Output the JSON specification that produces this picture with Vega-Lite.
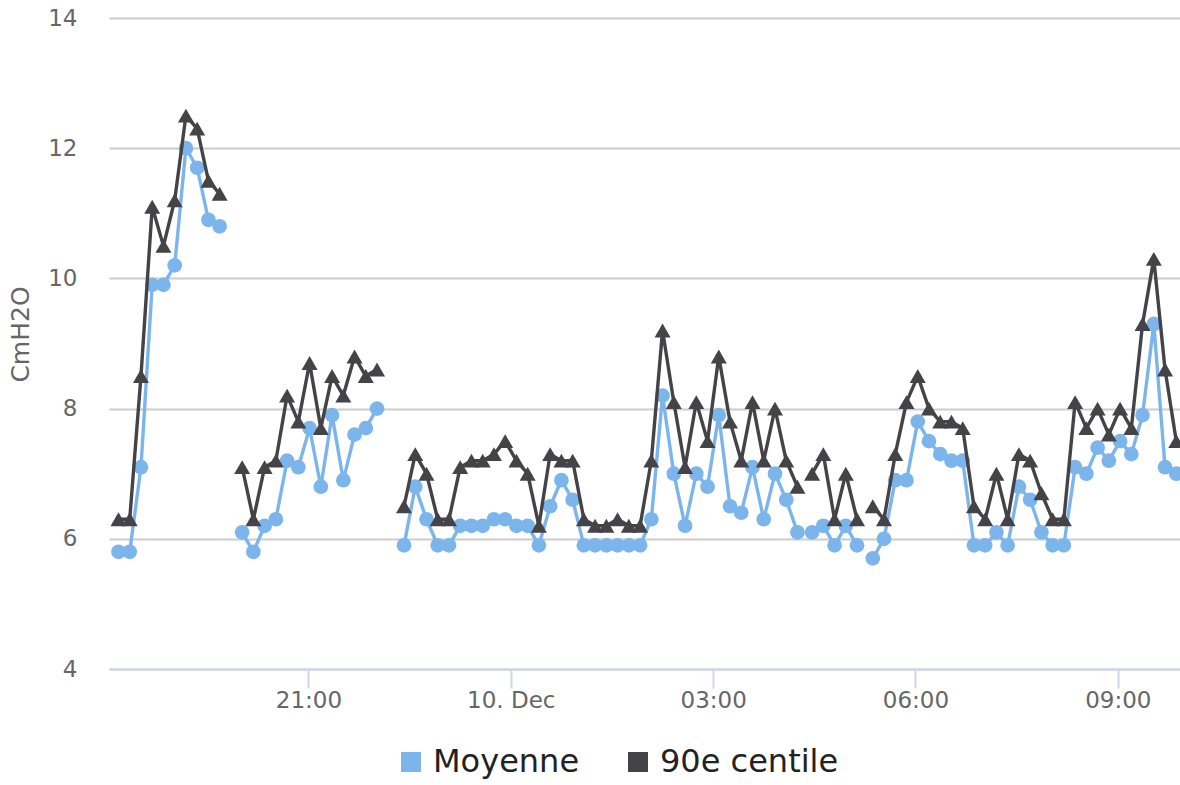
{
  "$schema": "https://vega.github.io/schema/vega-lite/v6.json",
  "width": 1071,
  "height": 651,
  "autosize": {"type": "none"},
  "padding": {"left": 109, "top": 18, "right": 0, "bottom": 116},
  "background": "#ffffff",
  "data": {
    "values": [
      {"t": "2024-12-09T18:11:00", "seg": 1, "moy": 5.8, "p90": 6.3},
      {"t": "2024-12-09T18:21:00", "seg": 1, "moy": 5.8, "p90": 6.3},
      {"t": "2024-12-09T18:31:00", "seg": 1, "moy": 7.1, "p90": 8.5},
      {"t": "2024-12-09T18:41:00", "seg": 1, "moy": 9.9, "p90": 11.1},
      {"t": "2024-12-09T18:51:00", "seg": 1, "moy": 9.9, "p90": 10.5},
      {"t": "2024-12-09T19:01:00", "seg": 1, "moy": 10.2, "p90": 11.2},
      {"t": "2024-12-09T19:11:00", "seg": 1, "moy": 12.0, "p90": 12.5},
      {"t": "2024-12-09T19:21:00", "seg": 1, "moy": 11.7, "p90": 12.3},
      {"t": "2024-12-09T19:31:00", "seg": 1, "moy": 10.9, "p90": 11.5},
      {"t": "2024-12-09T19:41:00", "seg": 1, "moy": 10.8, "p90": 11.3},
      {"t": "2024-12-09T20:01:00", "seg": 2, "moy": 6.1, "p90": 7.1},
      {"t": "2024-12-09T20:11:00", "seg": 2, "moy": 5.8, "p90": 6.3},
      {"t": "2024-12-09T20:21:00", "seg": 2, "moy": 6.2, "p90": 7.1},
      {"t": "2024-12-09T20:31:00", "seg": 2, "moy": 6.3, "p90": 7.2},
      {"t": "2024-12-09T20:41:00", "seg": 2, "moy": 7.2, "p90": 8.2},
      {"t": "2024-12-09T20:51:00", "seg": 2, "moy": 7.1, "p90": 7.8},
      {"t": "2024-12-09T21:01:00", "seg": 2, "moy": 7.7, "p90": 8.7},
      {"t": "2024-12-09T21:11:00", "seg": 2, "moy": 6.8, "p90": 7.7},
      {"t": "2024-12-09T21:21:00", "seg": 2, "moy": 7.9, "p90": 8.5},
      {"t": "2024-12-09T21:31:00", "seg": 2, "moy": 6.9, "p90": 8.2},
      {"t": "2024-12-09T21:41:00", "seg": 2, "moy": 7.6, "p90": 8.8},
      {"t": "2024-12-09T21:51:00", "seg": 2, "moy": 7.7, "p90": 8.5},
      {"t": "2024-12-09T22:01:00", "seg": 2, "moy": 8.0, "p90": 8.6},
      {"t": "2024-12-09T22:25:00", "seg": 3, "moy": 5.9, "p90": 6.5},
      {"t": "2024-12-09T22:35:00", "seg": 3, "moy": 6.8, "p90": 7.3},
      {"t": "2024-12-09T22:45:00", "seg": 3, "moy": 6.3, "p90": 7.0},
      {"t": "2024-12-09T22:55:00", "seg": 3, "moy": 5.9, "p90": 6.3},
      {"t": "2024-12-09T23:05:00", "seg": 3, "moy": 5.9, "p90": 6.3},
      {"t": "2024-12-09T23:15:00", "seg": 3, "moy": 6.2, "p90": 7.1},
      {"t": "2024-12-09T23:25:00", "seg": 3, "moy": 6.2, "p90": 7.2},
      {"t": "2024-12-09T23:35:00", "seg": 3, "moy": 6.2, "p90": 7.2},
      {"t": "2024-12-09T23:45:00", "seg": 3, "moy": 6.3, "p90": 7.3},
      {"t": "2024-12-09T23:55:00", "seg": 3, "moy": 6.3, "p90": 7.5},
      {"t": "2024-12-10T00:05:00", "seg": 3, "moy": 6.2, "p90": 7.2},
      {"t": "2024-12-10T00:15:00", "seg": 3, "moy": 6.2, "p90": 7.0},
      {"t": "2024-12-10T00:25:00", "seg": 3, "moy": 5.9, "p90": 6.2},
      {"t": "2024-12-10T00:35:00", "seg": 3, "moy": 6.5, "p90": 7.3},
      {"t": "2024-12-10T00:45:00", "seg": 3, "moy": 6.9, "p90": 7.2},
      {"t": "2024-12-10T00:55:00", "seg": 3, "moy": 6.6, "p90": 7.2},
      {"t": "2024-12-10T01:05:00", "seg": 3, "moy": 5.9, "p90": 6.3},
      {"t": "2024-12-10T01:15:00", "seg": 3, "moy": 5.9, "p90": 6.2},
      {"t": "2024-12-10T01:25:00", "seg": 3, "moy": 5.9, "p90": 6.2},
      {"t": "2024-12-10T01:35:00", "seg": 3, "moy": 5.9, "p90": 6.3},
      {"t": "2024-12-10T01:45:00", "seg": 3, "moy": 5.9, "p90": 6.2},
      {"t": "2024-12-10T01:55:00", "seg": 3, "moy": 5.9, "p90": 6.2},
      {"t": "2024-12-10T02:05:00", "seg": 3, "moy": 6.3, "p90": 7.2},
      {"t": "2024-12-10T02:15:00", "seg": 3, "moy": 8.2, "p90": 9.2},
      {"t": "2024-12-10T02:25:00", "seg": 3, "moy": 7.0, "p90": 8.1},
      {"t": "2024-12-10T02:35:00", "seg": 3, "moy": 6.2, "p90": 7.1},
      {"t": "2024-12-10T02:45:00", "seg": 3, "moy": 7.0, "p90": 8.1},
      {"t": "2024-12-10T02:55:00", "seg": 3, "moy": 6.8, "p90": 7.5},
      {"t": "2024-12-10T03:05:00", "seg": 3, "moy": 7.9, "p90": 8.8},
      {"t": "2024-12-10T03:15:00", "seg": 3, "moy": 6.5, "p90": 7.8},
      {"t": "2024-12-10T03:25:00", "seg": 3, "moy": 6.4, "p90": 7.2},
      {"t": "2024-12-10T03:35:00", "seg": 3, "moy": 7.1, "p90": 8.1},
      {"t": "2024-12-10T03:45:00", "seg": 3, "moy": 6.3, "p90": 7.2},
      {"t": "2024-12-10T03:55:00", "seg": 3, "moy": 7.0, "p90": 8.0},
      {"t": "2024-12-10T04:05:00", "seg": 3, "moy": 6.6, "p90": 7.2},
      {"t": "2024-12-10T04:15:00", "seg": 3, "moy": 6.1, "p90": 6.8},
      {"t": "2024-12-10T04:28:00", "seg": 4, "moy": 6.1, "p90": 7.0},
      {"t": "2024-12-10T04:38:00", "seg": 4, "moy": 6.2, "p90": 7.3},
      {"t": "2024-12-10T04:48:00", "seg": 4, "moy": 5.9, "p90": 6.3},
      {"t": "2024-12-10T04:58:00", "seg": 4, "moy": 6.2, "p90": 7.0},
      {"t": "2024-12-10T05:08:00", "seg": 4, "moy": 5.9, "p90": 6.3},
      {"t": "2024-12-10T05:22:00", "seg": 5, "moy": 5.7, "p90": 6.5},
      {"t": "2024-12-10T05:32:00", "seg": 5, "moy": 6.0, "p90": 6.3},
      {"t": "2024-12-10T05:42:00", "seg": 5, "moy": 6.9, "p90": 7.3},
      {"t": "2024-12-10T05:52:00", "seg": 5, "moy": 6.9, "p90": 8.1},
      {"t": "2024-12-10T06:02:00", "seg": 5, "moy": 7.8, "p90": 8.5},
      {"t": "2024-12-10T06:12:00", "seg": 5, "moy": 7.5, "p90": 8.0},
      {"t": "2024-12-10T06:22:00", "seg": 5, "moy": 7.3, "p90": 7.8},
      {"t": "2024-12-10T06:32:00", "seg": 5, "moy": 7.2, "p90": 7.8},
      {"t": "2024-12-10T06:42:00", "seg": 5, "moy": 7.2, "p90": 7.7},
      {"t": "2024-12-10T06:52:00", "seg": 5, "moy": 5.9, "p90": 6.5},
      {"t": "2024-12-10T07:02:00", "seg": 5, "moy": 5.9, "p90": 6.3},
      {"t": "2024-12-10T07:12:00", "seg": 5, "moy": 6.1, "p90": 7.0},
      {"t": "2024-12-10T07:22:00", "seg": 5, "moy": 5.9, "p90": 6.3},
      {"t": "2024-12-10T07:32:00", "seg": 5, "moy": 6.8, "p90": 7.3},
      {"t": "2024-12-10T07:42:00", "seg": 5, "moy": 6.6, "p90": 7.2},
      {"t": "2024-12-10T07:52:00", "seg": 5, "moy": 6.1, "p90": 6.7},
      {"t": "2024-12-10T08:02:00", "seg": 5, "moy": 5.9, "p90": 6.3},
      {"t": "2024-12-10T08:12:00", "seg": 5, "moy": 5.9, "p90": 6.3},
      {"t": "2024-12-10T08:22:00", "seg": 5, "moy": 7.1, "p90": 8.1},
      {"t": "2024-12-10T08:32:00", "seg": 5, "moy": 7.0, "p90": 7.7},
      {"t": "2024-12-10T08:42:00", "seg": 5, "moy": 7.4, "p90": 8.0},
      {"t": "2024-12-10T08:52:00", "seg": 5, "moy": 7.2, "p90": 7.6},
      {"t": "2024-12-10T09:02:00", "seg": 5, "moy": 7.5, "p90": 8.0},
      {"t": "2024-12-10T09:12:00", "seg": 5, "moy": 7.3, "p90": 7.7},
      {"t": "2024-12-10T09:22:00", "seg": 5, "moy": 7.9, "p90": 9.3},
      {"t": "2024-12-10T09:32:00", "seg": 5, "moy": 9.3, "p90": 10.3},
      {"t": "2024-12-10T09:42:00", "seg": 5, "moy": 7.1, "p90": 8.6},
      {"t": "2024-12-10T09:52:00", "seg": 5, "moy": 7.0, "p90": 7.5}
    ]
  },
  "transform": [{"fold": ["moy", "p90"], "as": ["key", "value"]}],
  "encoding": {
    "x": {
      "field": "t",
      "type": "temporal",
      "scale": {
        "domain": [
          {"year": 2024, "month": 12, "date": 9, "hours": 18, "minutes": 2, "seconds": 34},
          {"year": 2024, "month": 12, "date": 10, "hours": 9, "minutes": 55, "seconds": 18}
        ]
      },
      "axis": {
        "title": null,
        "grid": false,
        "values": [
          {"year": 2024, "month": 12, "date": 9, "hours": 21},
          {"year": 2024, "month": 12, "date": 10, "hours": 0},
          {"year": 2024, "month": 12, "date": 10, "hours": 3},
          {"year": 2024, "month": 12, "date": 10, "hours": 6},
          {"year": 2024, "month": 12, "date": 10, "hours": 9}
        ],
        "labelExpr": "hours(datum.value) == 0 ? timeFormat(datum.value, '%e. %b') : timeFormat(datum.value, '%H:%M')",
        "domainColor": "#ccd6eb",
        "domainWidth": 2,
        "tickColor": "#ccd6eb",
        "tickWidth": 2,
        "tickSize": 19,
        "labelFont": "DejaVu Sans",
        "labelFontSize": 23,
        "labelColor": "#666666",
        "labelPadding": 1,
        "labelFlush": false,
        "labelOverlap": false
      }
    },
    "y": {
      "field": "value",
      "type": "quantitative",
      "scale": {"domain": [4, 14], "nice": false, "zero": false},
      "axis": {
        "title": "CmH2O",
        "values": [4, 6, 8, 10, 12, 14],
        "grid": true,
        "gridColor": "#cccccc",
        "gridWidth": 2,
        "domain": false,
        "ticks": false,
        "tickSize": 0,
        "labelPadding": 32,
        "labelFont": "DejaVu Sans",
        "labelFontSize": 23,
        "labelColor": "#666666",
        "titleFont": "DejaVu Sans",
        "titleFontSize": 25,
        "titleFontWeight": "normal",
        "titleColor": "#666666",
        "titlePadding": 14,
        "titleY": 316
      }
    }
  },
  "layer": [
    {
      "transform": [{"filter": "datum.key == 'moy'"}],
      "mark": {"type": "line", "color": "#7cb5ec", "strokeWidth": 3.4, "strokeJoin": "round", "strokeCap": "round"},
      "encoding": {"detail": {"field": "seg"}}
    },
    {
      "transform": [{"filter": "datum.key == 'moy'"}],
      "mark": {"type": "point", "shape": "circle", "filled": true, "opacity": 1, "size": 216},
      "encoding": {
        "color": {
          "field": "key",
          "type": "nominal",
          "scale": {"domain": ["moy", "p90"], "range": ["#7cb5ec", "#434348"]},
          "legend": {"labelExpr": "datum.label == 'moy' ? 'Moyenne' : '90e centile'"}
        }
      }
    },
    {
      "transform": [{"filter": "datum.key == 'p90'"}],
      "mark": {"type": "line", "color": "#434348", "strokeWidth": 3.4, "strokeJoin": "round", "strokeCap": "round"},
      "encoding": {"detail": {"field": "seg"}}
    },
    {
      "transform": [{"filter": "datum.key == 'p90'"}],
      "mark": {"type": "point", "shape": "triangle-up", "filled": true, "opacity": 1, "size": 256},
      "encoding": {
        "color": {
          "field": "key",
          "type": "nominal",
          "scale": {"domain": ["moy", "p90"], "range": ["#7cb5ec", "#434348"]},
          "legend": {"labelExpr": "datum.label == 'moy' ? 'Moyenne' : '90e centile'"}
        }
      }
    }
  ],
  "config": {
    "view": {"stroke": null},
    "legend": {
      "orient": "none",
      "legendX": 286,
      "legendY": 728,
      "direction": "horizontal",
      "title": null,
      "padding": 0,
      "symbolType": "square",
      "symbolSize": 400,
      "symbolStrokeWidth": 0,
      "symbolOpacity": 1,
      "labelFont": "DejaVu Sans",
      "labelFontSize": 32,
      "labelColor": "#222222",
      "labelOffset": 6,
      "columnPadding": 42,
      "labelLimit": 400
    }
  }
}
